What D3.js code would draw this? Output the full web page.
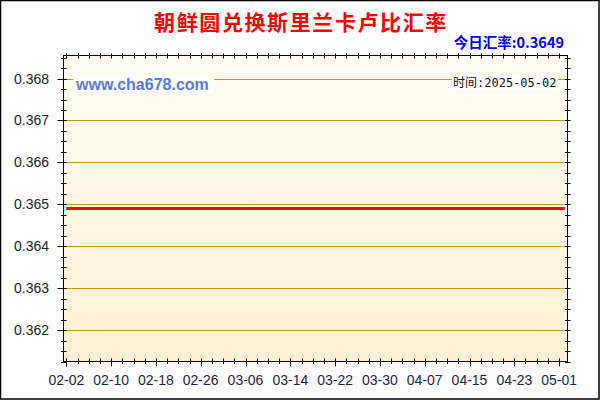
<!DOCTYPE html>
<html>
<head>
<meta charset="utf-8">
<script src="https://cdn.jsdelivr.net/npm/d3@7"></script>
<style>
html,body{margin:0;padding:0;background:#fff;}
svg{display:block;}
</style>
</head>
<body>
<svg id="chart" width="600" height="400"></svg>
<script>
// ---- data ----
const titleText = "朝鲜圆兑换斯里兰卡卢比汇率";
const todayText = "今日汇率:0.3649";
const dateText = "时间:2025-05-02";
const watermark = "www.cha678.com";
const startDate = "2025-02-02";
const endDate = "2025-05-02";
const rates = [
 0.3649,0.3649,0.3649,0.3649,0.3649,0.3649,0.3649,0.3649,0.3649,0.3649,
 0.3649,0.3649,0.3649,0.3649,0.3649,0.3649,0.3649,0.3649,0.3649,0.3649,
 0.3649,0.3649,0.3649,0.3649,0.3649,0.3649,0.3649,0.3649,0.3649,0.3649,
 0.3649,0.3649,0.3649,0.3649,0.3649,0.3649,0.3649,0.3649,0.3649,0.3649,
 0.3649,0.3649,0.3649,0.3649,0.3649,0.3649,0.3649,0.3649,0.3649,0.3649,
 0.3649,0.3649,0.3649,0.3649,0.3649,0.3649,0.3649,0.3649,0.3649,0.3649,
 0.3649,0.3649,0.3649,0.3649,0.3649,0.3649,0.3649,0.3649,0.3649,0.3649,
 0.3649,0.3649,0.3649,0.3649,0.3649,0.3649,0.3649,0.3649,0.3649,0.3649,
 0.3649,0.3649,0.3649,0.3649,0.3649,0.3649,0.3649,0.3649,0.3649,0.3649
];
const xTickLabels = ["02-02","02-10","02-18","02-26","03-06","03-14","03-22","03-30","04-07","04-15","04-23","05-01"];
const yTickLabels = ["0.362","0.363","0.364","0.365","0.366","0.367","0.368"];

// ---- layout ----
const svg = d3.select("#chart");
const L = 63.5, R = 567.5, T = 55.5, B = 361.5;
const parse = d3.utcParse("%Y-%m-%d");
const d0 = parse(startDate), d1 = parse(endDate);
const dates = d3.utcDay.range(d0, d3.utcDay.offset(d1, 1));
const data = dates.map((d, i) => ({date: d, value: rates[i]}));

const x = d3.scaleUtc()
  .domain([d3.utcHour.offset(d0, -12), d3.utcHour.offset(d1, 12)])
  .range([L, R]);
const y = d3.scaleLinear().domain([0.36125, 0.36855]).range([B, T]);

// background border
svg.append("rect").attr("x", 0.5).attr("y", 0.5).attr("width", 598.5).attr("height", 398.5)
  .attr("fill", "#fff").attr("stroke", "#000").attr("stroke-width", 1.5);

// gradient
const defs = svg.append("defs");
const grad = defs.append("linearGradient").attr("id", "bg").attr("x1", 0).attr("y1", 0).attr("x2", 0).attr("y2", 1);
grad.append("stop").attr("offset", "0%").attr("stop-color", "#fffef4");
grad.append("stop").attr("offset", "100%").attr("stop-color", "#fdf0d5");
svg.append("rect").attr("x", L).attr("y", T).attr("width", R - L).attr("height", B - T).attr("fill", "url(#bg)");

// grid lines
const yMajor = yTickLabels.map(Number);
svg.append("g").selectAll("line").data(yMajor).join("line")
  .attr("x1", L).attr("x2", R)
  .attr("y1", d => Math.round(y(d)) + 0.5).attr("y2", d => Math.round(y(d)) + 0.5)
  .attr("stroke", "#c8960c").attr("stroke-width", 1);

// title texts
svg.append("text").attr("x", 301).attr("y", 30).attr("text-anchor", "middle")
  .attr("font-family", "'Noto Sans CJK SC', sans-serif").attr("font-weight", "bold")
  .attr("font-size", 21).attr("letter-spacing", 1.6).attr("fill", "#ff0000").text(titleText);
svg.append("text").attr("x", 564).attr("y", 48).attr("text-anchor", "end")
  .attr("font-family", "'Noto Sans CJK SC', 'Liberation Sans', sans-serif").attr("font-weight", "bold")
  .attr("font-size", 14.5).attr("fill", "#0000ff").text(todayText);

// watermark with white box
svg.append("rect").attr("x", 73).attr("y", 75).attr("width", 141).attr("height", 19).attr("fill", "#fff");
svg.append("text").attr("x", 76).attr("y", 90)
  .attr("font-family", "'Liberation Sans', Arial, sans-serif").attr("font-weight", "bold")
  .attr("font-size", 16).attr("fill", "#5a78ee").text(watermark);

// date stamp
svg.append("rect").attr("x", 452).attr("y", 74).attr("width", 106).attr("height", 16).attr("fill", "#fff");
svg.append("text").attr("x", 453).attr("y", 86.5)
  .attr("font-family", "'DejaVu Sans Mono', 'Noto Sans CJK SC', monospace")
  .attr("font-size", 12).attr("fill", "#111").text(dateText);

// data line
const line = d3.line().x(d => x(d.date)).y(d => y(d.value));
svg.append("path").datum(data).attr("d", line)
  .attr("fill", "none").attr("stroke", "#ff0000").attr("stroke-width", 3);

// frame
const axisG = svg.append("g").attr("stroke", "#000").attr("stroke-width", 1);
axisG.append("rect").attr("x", L).attr("y", T).attr("width", R - L).attr("height", B - T).attr("fill", "none");

// y ticks (minor every 0.00025)
const yMinor = d3.range(0, 30).map(i => 0.36125 + i * 0.00025).filter(v => v <= 0.3685);
yMinor.forEach(v => {
  const yy = Math.round(y(v)) + 0.5;
  axisG.append("line").attr("x1", L - 2.5).attr("x2", L + 3).attr("y1", yy).attr("y2", yy);
  axisG.append("line").attr("x1", R - 2.5).attr("x2", R + 3).attr("y1", yy).attr("y2", yy);
});
yMajor.forEach(v => {
  const yy = Math.round(y(v)) + 0.5;
  axisG.append("line").attr("x1", L - 6).attr("x2", L + 3).attr("y1", yy).attr("y2", yy);
});

// x ticks (minor every 2 days, major every 8 days)
const xMinor = d3.utcDay.every(2).range ? d3.utcDay.range(d0, d3.utcDay.offset(d1, 1), 2) : [];
xMinor.forEach(d => {
  const xx = Math.round(x(d)) + 0.5;
  axisG.append("line").attr("x1", xx).attr("x2", xx).attr("y1", B - 3).attr("y2", B + 2.5);
  axisG.append("line").attr("x1", xx).attr("x2", xx).attr("y1", T - 2).attr("y2", T + 3);
});
const xMajor = xTickLabels.map(s => parse("2025-" + s));
xMajor.forEach(d => {
  const xx = Math.round(x(d)) + 0.5;
  axisG.append("line").attr("x1", xx).attr("x2", xx).attr("y1", B - 3).attr("y2", B + 5);
});

// tick labels
svg.append("g").selectAll("text").data(yTickLabels).join("text")
  .attr("x", 49).attr("y", d => y(+d) + 5).attr("text-anchor", "end")
  .attr("font-family", "'Liberation Sans', Arial, sans-serif").attr("font-size", 14)
  .attr("fill", "#222").text(d => d);
svg.append("g").selectAll("text").data(xTickLabels).join("text")
  .attr("x", (d, i) => x(xMajor[i])).attr("y", 385).attr("text-anchor", "middle")
  .attr("font-family", "'Liberation Sans', Arial, sans-serif").attr("font-size", 14)
  .attr("fill", "#1c2448").text(d => d);
</script>
</body>
</html>
